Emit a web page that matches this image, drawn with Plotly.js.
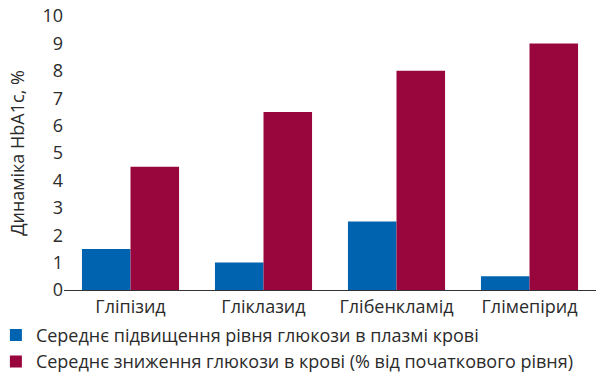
<!DOCTYPE html>
<html>
<head>
<meta charset="utf-8">
<script src="https://cdn.plot.ly/plotly-3.0.1.min.js"></script>
<style>html,body{margin:0;padding:0;background:#fff;}#chart{width:600px;height:376px;}</style>
</head>
<body>
<div id="chart"></div>
<script>
const categories = ["Гліпізид", "Гліклазид", "Глібенкламід", "Глімепірид"];
const seriesNames = ["Середнє підвищення рівня глюкози в плазмі крові", "Середнє зниження глюкози в крові (% від початкового рівня)"];
const increaseValues = [1.5, 1.0, 2.5, 0.5];
const decreaseValues = [4.5, 6.5, 8.0, 9.0];
const yTicks = [0, 1, 2, 3, 4, 5, 6, 7, 8, 9, 10];

const font = {family: "'Open Sans', Roboto, sans-serif", size: 18, color: "#2b2b2b"};

const traces = [
  {type: "bar", x: categories, y: increaseValues, name: seriesNames[0], marker: {color: "#0063b0"}},
  {type: "bar", x: categories, y: decreaseValues, name: seriesNames[1], marker: {color: "#99063e"}}
];

const layout = {
  width: 600, height: 376,
  margin: {l: 64, r: 4, t: 16, b: 86, autoexpand: false},
  paper_bgcolor: "#fff", plot_bgcolor: "#fff",
  font: font,
  barmode: "group", bargap: 0.27, bargroupgap: 0,
  xaxis: {showgrid: false, showline: true, linecolor: "#333", linewidth: 1, ticks: "", tickfont: font, zeroline: false},
  yaxis: {range: [0, 10], tickvals: yTicks, showgrid: false, zeroline: false, showline: false, ticks: "", tickfont: font,
          title: {text: "Динаміка HbA1c, %", font: font, standoff: 13}},
  legend: {orientation: "v", x: -0.128, xanchor: "left", y: -0.098, yanchor: "top", font: font, tracegroupgap: 0, itemwidth: 30},
  showlegend: true
};

Plotly.newPlot("chart", traces, layout, {displayModeBar: false, staticPlot: true});
</script>
</body>
</html>
